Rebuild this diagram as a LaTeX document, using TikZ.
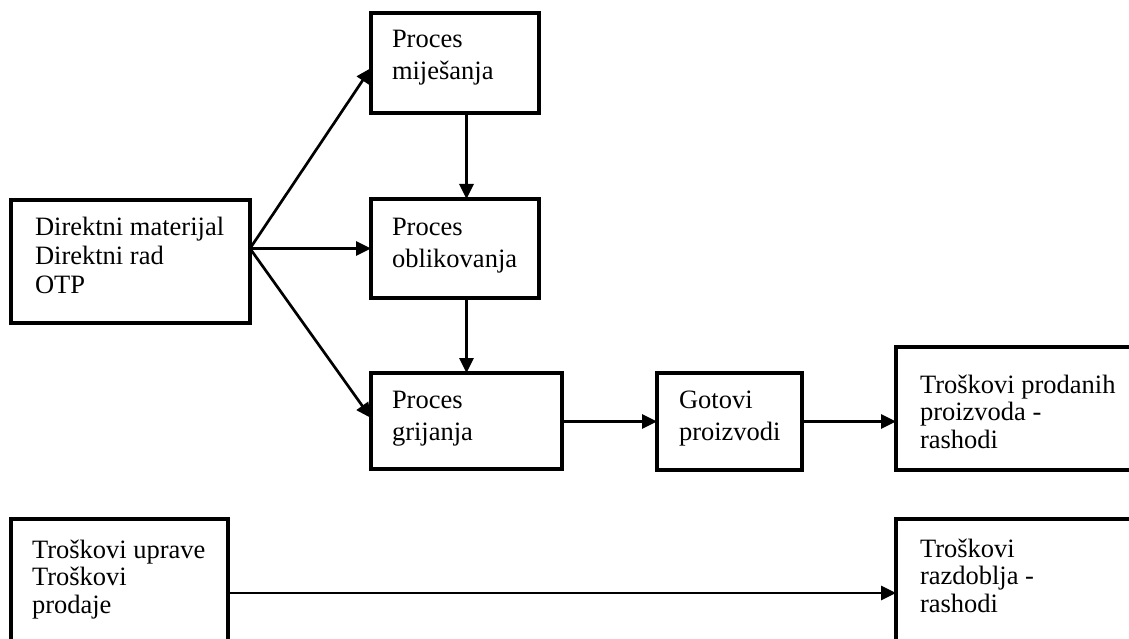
\documentclass[tikz,border=0pt]{standalone}
\usepackage{fontspec}
\setmainfont{Liberation Serif}
\usetikzlibrary{arrows.meta,calc}
\begin{document}
\begin{tikzpicture}[x=1pt,y=-1pt,
  box/.style={draw=black,line width=3.5pt,fill=white,inner sep=0pt,outer sep=0pt},
  lbl/.style={anchor=north west,inner sep=0pt,outer sep=0pt,align=left},
  procfont/.style={font=\fontsize{26.5}{32}\selectfont},
  afont/.style={font=\fontsize{26.5}{29}\selectfont},
  tightfont/.style={font=\fontsize{26.5}{27.5}\selectfont},
  conn/.style={line width=2.7pt,-{Triangle[length=15pt,width=14pt]}}]
\useasboundingbox (0,0) rectangle (1129,639);
\clip (0,0) rectangle (1129,639);
% boxes
\node[box,minimum width=239pt,minimum height=123pt] (A) at (130.5,261.5) {};
\node[box,minimum width=168pt,minimum height=100pt] (B) at (455,63) {};
\node[box,minimum width=168pt,minimum height=99pt] (C) at (455,248.5) {};
\node[box,minimum width=191pt,minimum height=96pt] (D) at (466.5,421) {};
\node[box,minimum width=145pt,minimum height=97pt] (E) at (729.5,421.5) {};
\node[box,minimum width=244pt,minimum height=123pt] (F) at (1018,408.5) {};
\node[box,minimum width=217pt,minimum height=148pt] (G) at (119.5,593) {};
\node[box,minimum width=244pt,minimum height=148pt] (H) at (1018,593) {};
% texts
\node[lbl,afont] (At) at (35,216) {\rule{0pt}{19pt}Direktni materijal\\Direktni rad\\OTP};
\node[lbl,procfont] (Bt) at (392,29) {\rule{0pt}{19pt}Proces\\miješanja};
\node[lbl,procfont] (Ct) at (392,216) {\rule{0pt}{19pt}Proces\\oblikovanja};
\node[lbl,procfont] (Dt) at (392,389) {\rule{0pt}{19pt}Proces\\grijanja};
\node[lbl,procfont] (Et) at (679,389) {\rule{0pt}{19pt}Gotovi\\proizvodi};
\node[lbl,tightfont] (Ft) at (920,374) {\rule{0pt}{19pt}Troškovi prodanih\\proizvoda -\\rashodi};
\node[lbl,tightfont] (Gt) at (32,539) {\rule{0pt}{19pt}Troškovi uprave\\Troškovi\\prodaje};
\node[lbl,tightfont] (Ht) at (920,538) {\rule{0pt}{19pt}Troškovi\\razdoblja -\\rashodi};
% connectors
\coordinate (a0) at (A.east |- C.west);
\draw[conn] (a0) -- ($(B.west)+(0,5)$);
\draw[conn] (a0) -- (C.west);
\draw[conn] (a0) -- ($(D.west)+(0,-3)$);
\draw[conn] (B.south -| D.north) -- (C.north -| D.north);
\draw[conn] (C.south -| D.north) -- (D.north);
\draw[conn] ($(D.east)+(0,0.5)$) -- ($(E.west |- D.east)+(0,0.5)$);
\draw[conn] (E.east) -- (E.east -| F.west);
\draw[conn] (G.east) -- (G.east -| H.west);
\end{tikzpicture}
\end{document}
